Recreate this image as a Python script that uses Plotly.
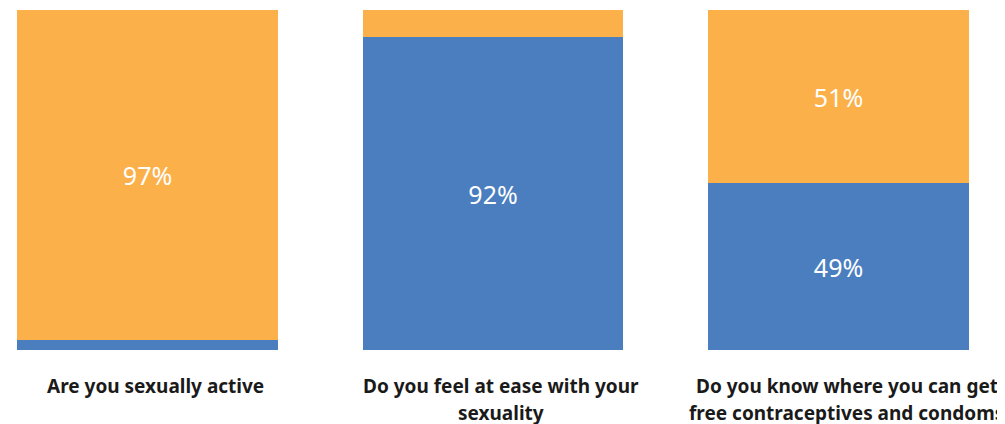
import plotly.graph_objects as go

categories = ["Are you sexually active",
              "Do you feel at ease with your\nsexuality",
              "Do you know where you can get\nfree contraceptives and condoms"]
yes_values = [3, 92, 49]
no_values = [97, 8, 51]

BLUE = "#4A7EBF"
ORANGE = "#FBB04A"

def labels(vals):
    return [f"{v}%" if v >= 20 else "" for v in vals]

x = list(range(len(categories)))
fig = go.Figure()
for vals, col in ((yes_values, BLUE), (no_values, ORANGE)):
    fig.add_trace(go.Bar(x=x, y=vals, marker_color=col, width=0.755,
                         marker_line_width=0,
                         text=labels(vals), textposition="inside",
                         insidetextanchor="middle",
                         textfont=dict(color="white", size=25, family="Noto Sans"),
                         hoverinfo="skip"))

for i, cat in enumerate(categories):
    for j, line in enumerate(cat.split("\n")):
        fig.add_annotation(x=i, y=0, xref="x", yref="y", text="<b>" + line + "</b>",
                           showarrow=False, yanchor="middle",
                           yshift=-36 - 27 * j, xshift=8,
                           font=dict(size=19, color="#1a1a1a", family="Noto Sans"))

fig.update_layout(
    width=1005, height=424, barmode="stack", showlegend=False,
    margin=dict(l=0, r=0, t=2, b=82),
    plot_bgcolor="white", paper_bgcolor="white",
    xaxis=dict(range=[-0.4038, 2.505], showticklabels=False, showgrid=False,
               zeroline=False, showline=False, ticks=""),
    yaxis=dict(range=[0, 100], visible=False),
)
fig.write_html("out.html")
